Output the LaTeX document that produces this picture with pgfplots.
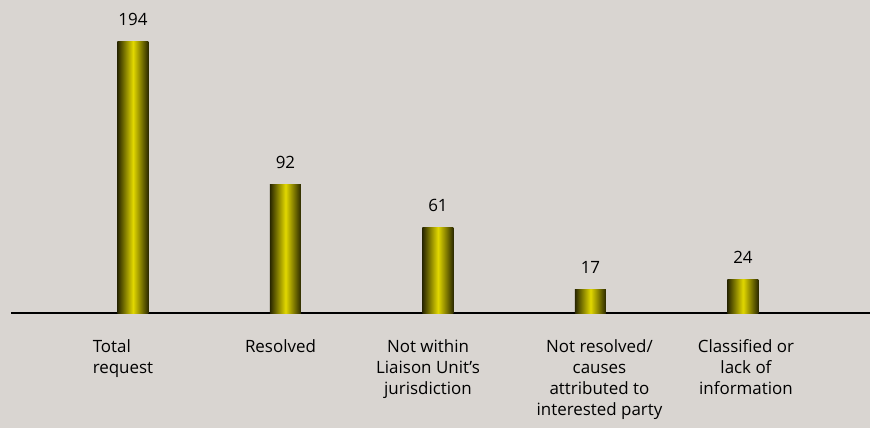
\documentclass[border=0pt]{standalone}
\usepackage{pgfplots}
\pgfplotsset{compat=1.18}
\usepackage{fontspec}
\setmainfont{Open Sans}
\definecolor{bg}{RGB}{217,213,209}
\definecolor{barmid}{RGB}{226,216,0}
\definecolor{baredge}{RGB}{42,40,0}
\begin{document}
\begin{tikzpicture}[x=1bp,y=1bp]
\fill[bg] (0,0) rectangle (870,428);
\begin{axis}[
  at={(11bp,115bp)}, anchor=south west,
  scale only axis, width=859bp, height=313bp,
  xmin=-0.8, xmax=4.833, ymin=0, ymax=224,
  axis x line*=bottom, axis y line=none,
  x axis line style={line width=2.3bp,-},
  xtick={0,1,2,3,4}, major tick length=0pt,
  xticklabels={
    {\hspace*{-20bp}\begin{tabular}{@{}l@{}}Total\\request\end{tabular}},
    {\hspace*{-10bp}\begin{tabular}{@{}c@{}}Resolved\end{tabular}},
    {\hspace*{-20bp}\begin{tabular}{@{}c@{}}Not within\\Liaison Unit’s\\jurisdiction\end{tabular}},
    {\hspace*{18bp}\begin{tabular}{@{}c@{}}Not resolved/\\causes\\attributed to\\interested party\end{tabular}},
    {\hspace*{6bp}\begin{tabular}{@{}c@{}}Classified or\\lack of\\information\end{tabular}}},
  xticklabel style={anchor=north, inner sep=0pt, yshift=-25bp, font=\fontsize{17}{21}\selectfont},
  ytick=\empty,
  ybar, bar width=31bp, bar shift=0pt,
  nodes near coords,
  /pgf/number format/assume math mode=true,
  every node near coord/.append style={font=\fontsize{17}{20}\selectfont, inner sep=0pt, yshift=16bp, black},
  clip=false,
]
\addplot[draw=none, left color=baredge, right color=baredge, middle color=barmid, shading=axis] coordinates {(0,194)};
\addplot[draw=none, left color=baredge, right color=baredge, middle color=barmid, shading=axis] coordinates {(1,92)};
\addplot[draw=none, left color=baredge, right color=baredge, middle color=barmid, shading=axis] coordinates {(2,61)};
\addplot[draw=none, left color=baredge, right color=baredge, middle color=barmid, shading=axis] coordinates {(3,17)};
\addplot[draw=none, left color=baredge, right color=baredge, middle color=barmid, shading=axis] coordinates {(4,24)};
\end{axis}
\pgfresetboundingbox
\path (0,0) rectangle (870,428);
\end{tikzpicture}
\end{document}
